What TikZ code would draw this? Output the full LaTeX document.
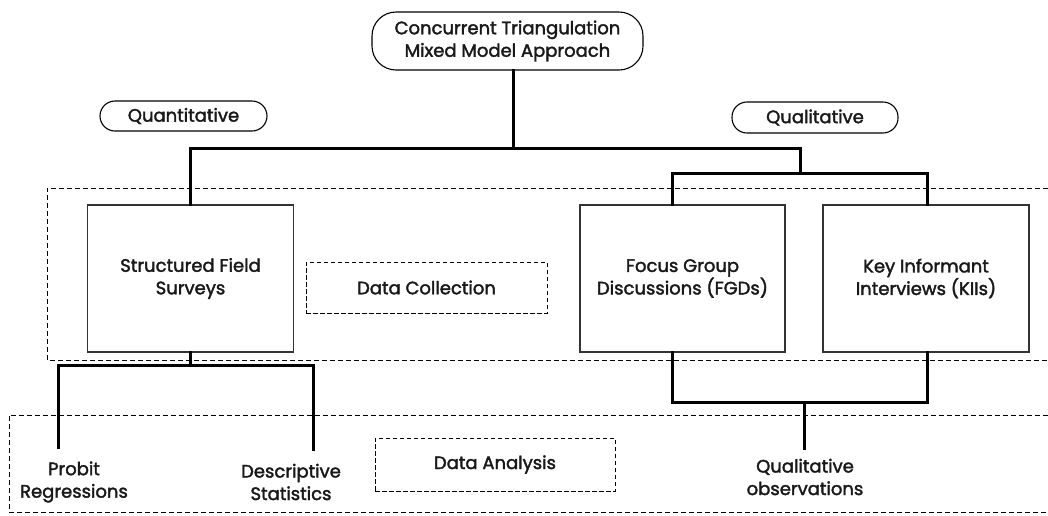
\documentclass[tikz,border=0pt]{standalone}
\usepackage{fontspec}
\setmainfont{Poppins}[FakeBold=2]
\begin{document}
\begin{tikzpicture}[x=1pt,y=-1pt,
  txt/.style={font=\fontsize{18}{22.5}\selectfont, text=black!90, align=center, inner sep=0pt},
  pill/.style={txt, draw, line width=1.1pt, rounded corners=15pt, minimum width=#1},
  pill/.default=166pt,
  bigbox/.style={txt, draw=black!80, line width=1.3pt, minimum width=206pt, minimum height=147pt},
  dbox/.style={txt, draw, line width=0.9pt, dash pattern=on 4.5pt off 2.5pt},
  region/.style={line width=0.9pt, dash pattern=on 5pt off 3pt},
  conn/.style={line width=3pt, line cap=rect}]
\useasboundingbox (0,0) rectangle (1048,515);
% regions
\draw[region] (1048,188) -- (47,188) -- (47,360) -- (1048,360);
\draw[region] (1048,415) -- (9,415) -- (9,512) -- (1048,512);
% nodes
\node[pill=271pt, minimum height=58pt, rounded corners=24pt] (top) at (507.5,41) {Concurrent Triangulation\\Mixed Model Approach};
\node[pill=167pt, minimum height=30pt] (quant) at (183.5,116) {Quantitative};
\node[pill=166pt, minimum height=31pt] (qual) at (815,117.5) {Qualitative};
\node[bigbox] (sfs) at (190.5,278.5) {Structured Field\\Surveys};
\node[bigbox, minimum width=205pt] (fgd) at (682.5,278.5) {Focus Group\\Discussions (FGDs)};
\node[bigbox] (kii) at (926,278.5) {Key Informant\\Interviews (KIIs)};
\node[dbox, minimum width=241pt, minimum height=51pt] (dc) at (426.5,287.5) {Data Collection};
\node[dbox, minimum width=240pt, minimum height=53pt] (da) at (495,464.5) {Data Analysis};
\node[txt] (probit) at (74,482) {Probit\\Regressions};
\node[txt] (desc) at (291,482) {Descriptive\\Statistics};
\node[txt] (qobs) at (805,477) {Qualitative\\observations};
% coordinates
\coordinate (t) at (513,148);
\coordinate (jl) at (190,148);
\coordinate (jr) at (800,148);
\coordinate (jq) at (800,173);
\coordinate (fl) at (672,173);
\coordinate (kr) at (927,173);
\coordinate (bs) at (190,365);
\coordinate (pl) at (58,365);
\coordinate (pr) at (313,365);
\coordinate (pe) at (58,447);
\coordinate (de) at (313,449);
\coordinate (fb) at (672,402);
\coordinate (kb) at (927,402);
\coordinate (qb) at (804,402);
\coordinate (qe) at (804,448);
% connectors
\draw[conn] (t |- top.south) -- (t);
\draw[conn] (sfs.north -| jl) -- (jl) -- (jr) -- (jq);
\draw[conn] (fgd.north -| fl) -- (fl) -- (kr) -- (kii.north -| kr);
\draw[conn] (sfs.south -| bs) -- (bs);
\draw[conn] (pe) -- (pl) -- (pr) -- (de);
\draw[conn] (fgd.south -| fb) -- (fb) -- (kb) -- (kii.south -| kb);
\draw[conn] (qb) -- (qe);
\end{tikzpicture}
\end{document}
